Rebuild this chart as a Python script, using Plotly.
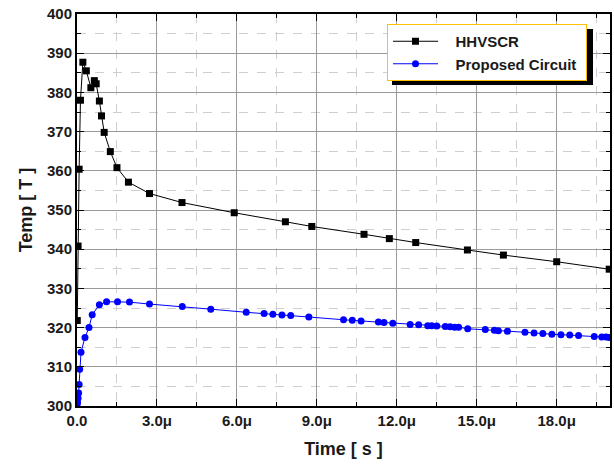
import plotly.graph_objects as go

# Time in microseconds, temperature in T
hh_t = [0.01, 0.04, 0.08, 0.13, 0.22, 0.35, 0.52, 0.65, 0.72, 0.84, 0.92, 1.02, 1.25, 1.5,
        1.93, 2.72, 3.94, 5.9, 7.82, 8.81, 10.77, 11.72, 12.71, 14.65, 16.0, 18.0, 19.97]
hh_v = [321.8, 340.8, 360.4, 378.0, 387.7, 385.5, 381.2, 383.0, 382.2, 377.8, 374.0, 369.8, 364.9, 360.8,
        357.1, 354.2, 351.9, 349.3, 347.0, 345.8, 343.8, 342.7, 341.7, 339.8, 338.5, 336.8, 334.9]

pc_t = [0.0, 0.02, 0.04, 0.06, 0.08, 0.1, 0.15, 0.3, 0.45, 0.57, 0.84, 1.11, 1.52, 1.97, 2.72,
        3.95, 5.02, 6.35, 7.02, 7.35, 7.69, 8.02, 8.7, 10.0, 10.33, 10.66, 11.31, 11.52, 11.85,
        12.5, 12.82, 13.16, 13.31, 13.5, 13.82, 14.0, 14.17, 14.32, 14.66, 15.32, 15.66, 15.81,
        16.15, 16.81, 17.15, 17.48, 17.82, 18.16, 18.49, 18.82, 19.41, 19.69, 19.85, 19.97]
pc_v = [300.2, 300.8, 302.0, 303.3, 305.5, 309.4, 313.7, 317.5, 320.0, 323.3, 325.8, 326.6, 326.6, 326.5, 326.0,
        325.4, 324.7, 323.9, 323.6, 323.4, 323.2, 323.1, 322.7, 322.0, 321.9, 321.7, 321.4, 321.3, 321.1,
        320.8, 320.7, 320.5, 320.5, 320.4, 320.3, 320.2, 320.1, 320.1, 319.7, 319.5, 319.3, 319.2,
        319.1, 318.8, 318.6, 318.5, 318.3, 318.2, 318.1, 318.0, 317.7, 317.6, 317.6, 317.5]

series_names = ["HHVSCR", "Proposed Circuit"]
x_tickvals = [0, 3, 6, 9, 12, 15, 18]
x_ticktext = ["0.0", "3.0\u03bc", "6.0\u03bc", "9.0\u03bc", "12.0\u03bc", "15.0\u03bc", "18.0\u03bc"]
y_tickvals = [300, 310, 320, 330, 340, 350, 360, 370, 380, 390, 400]

FONT = "Liberation Sans, Arial, sans-serif"
NB = "\u00a0"

fig = go.Figure()
fig.add_trace(go.Scatter(
    x=hh_t, y=hh_v, name=NB * 3 + series_names[0], mode="lines+markers",
    line=dict(color="#000000", width=1),
    marker=dict(symbol="square", size=7, color="#000000"),
))
fig.add_trace(go.Scatter(
    x=pc_t, y=pc_v, name=NB * 3 + series_names[1] + NB, mode="lines+markers",
    line=dict(color="#0000ff", width=1),
    marker=dict(symbol="circle", size=7, color="#0000ff"),
))

W, H = 614, 468
# plot area in page px
PL, PR, PT, PB = 77, 610, 14, 406
pw, ph = PR - PL, PB - PT


def px_x(x):
    return (x - PL) / pw


def px_y(y):
    return (PB - y) / ph


axis_common = dict(
    showline=True, linecolor="#000000", linewidth=2, mirror="ticks",
    ticks="inside", ticklen=7, tickcolor="#000000", tickwidth=1,
    showgrid=True, gridcolor="#9a9a9a", gridwidth=1,
    tickfont=dict(family=FONT, size=15, color="#1a1a1a", weight="bold"),
    ticklabeloverflow="allow",
    zeroline=False, automargin=False,
)

fig.update_xaxes(
    range=[0, 20], tickvals=x_tickvals, ticktext=x_ticktext,
    minor=dict(dtick=1.5, tick0=0, ticks="inside", ticklen=4, tickcolor="#000000",
               showgrid=True, gridcolor="#cfcfcf", griddash="dash", gridwidth=1),
    title=dict(text="Time [ s ]", font=dict(family=FONT, size=18, color="#1a1a1a", weight="bold"),
               standoff=14),
    **axis_common,
)
fig.update_yaxes(
    range=[300, 400], tickvals=y_tickvals,
    minor=dict(dtick=5, tick0=300, ticks="inside", ticklen=4, tickcolor="#000000",
               showgrid=True, gridcolor="#cfcfcf", griddash="dash", gridwidth=1),
    title=dict(text="Temp [ T ]", font=dict(family=FONT, size=18, color="#1a1a1a", weight="bold"),
               standoff=10),
    **axis_common,
)

fig.update_layout(
    width=W, height=H,
    margin=dict(l=PL, r=W - PR, t=PT, b=H - PB),
    paper_bgcolor="#ffffff", plot_bgcolor="#ffffff",
    hovermode=False,
    showlegend=True,
    legend=dict(
        x=px_x(387), y=px_y(24), xanchor="left", yanchor="top",
        bgcolor="#ffffff", bordercolor="#ffc000", borderwidth=1,
        font=dict(family=FONT, size=15, color="#1a1a1a", weight="bold"),
        itemwidth=45, tracegroupgap=0,
    ),
)

# legend drop shadow
fig.add_shape(
    type="rect", xref="paper", yref="paper", layer="above",
    x0=px_x(392), x1=px_x(593), y0=px_y(85), y1=px_y(29),
    fillcolor="#000000", line=dict(width=0),
)

fig.write_html("out.html", config={"displayModeBar": False},
               post_script="document.body.style.margin='0px';")
